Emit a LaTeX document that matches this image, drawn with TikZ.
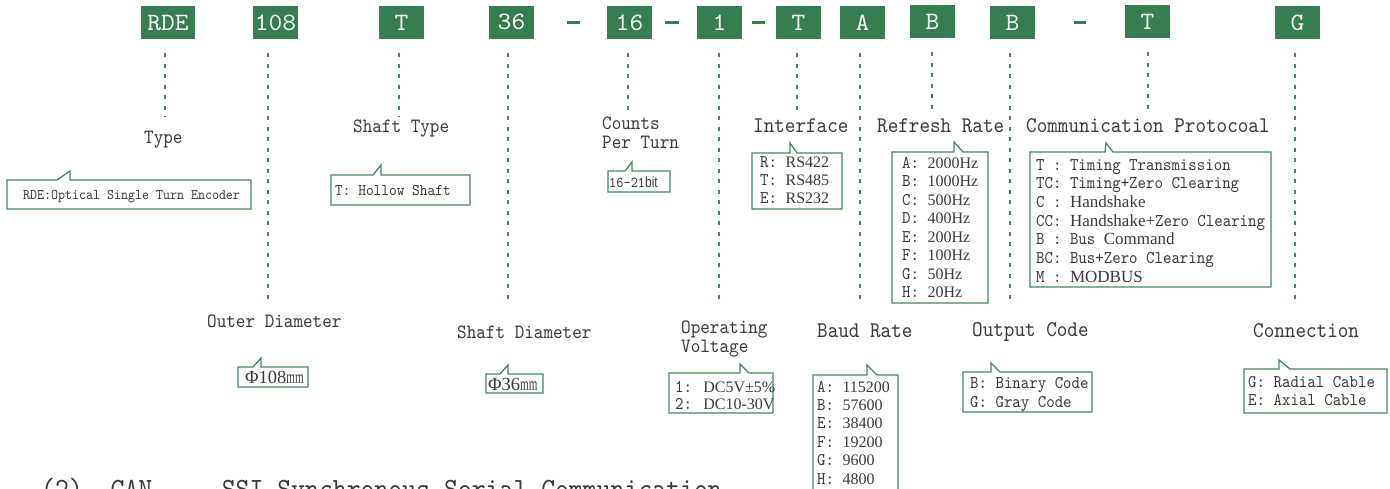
\documentclass[tikz,border=0pt]{standalone}
\usepackage{fontspec}
\newfontfamily\monof[FakeStretch=0.9]{lmmono10-regular.otf}
\newfontfamily\topf[FakeStretch=1.05]{lmmono10-regular.otf}
\newfontfamily\tmsf{Liberation Serif}
\newfontfamily\sansf[FakeStretch=0.8]{Liberation Sans}
\newcommand\tn[1]{{\tmsf\fontsize{16}{16}\selectfont #1}}
\newcommand\tnb[1]{{\tmsf\fontsize{18.5}{18.5}\selectfont #1}}
\definecolor{gfill}{HTML}{367E52}
\definecolor{gline}{HTML}{3D8B5B}
\definecolor{txt}{HTML}{3E3838}
\newcommand\gcall[8]{\draw[callout] (#1,#2) -- (#5,#2) -- (#6,#7) -- (#8,#2) -- (#3,#2) -- (#3,#4) -- (#1,#4) -- cycle;}
\tikzset{
 topbox/.style={fill=gfill, text=white!92!gray, minimum height=33pt, minimum width=45pt, inner sep=0pt, font=\topf\fontsize{25}{25}\selectfont},
 dline/.style={gline, line width=1.3pt, dash pattern=on 4pt off 6.5pt},
 lab/.style={anchor=base west, inner sep=0pt, text=txt, font=\monof\fontsize{20.3}{20.3}\selectfont},
 labL/.style={lab, font=\monof\fontsize{22.4}{22.4}\selectfont},
 boxtxt/.style={anchor=base west, inner sep=0pt, text=txt, font=\monof\fontsize{17.9}{17.9}\selectfont},
 callout/.style={draw=gline, line width=1.3pt, line join=miter},
 dashbar/.style={fill=gfill, draw=none}
}
\begin{document}
\begin{tikzpicture}[x=1pt,y=-1pt]
\useasboundingbox (0,0) rectangle (1390,488);
% top code boxes
\node[topbox, minimum width=54pt] (b1) at (168,22.5) {RDE};
\node[topbox] (b2) at (275.5,22.5) {108};
\node[topbox] (b3) at (401.5,22.5) {T};
\node[topbox] (b4) at (511.5,22.5) {\raisebox{2pt}{36}};
\node[topbox] (b5) at (629.5,22.5) {16};
\node[topbox] (b6) at (719.5,22.5) {1};
\node[topbox] (b7) at (798.5,22.5) {T};
\node[topbox] (b8) at (862.5,22.5) {A};
\node[topbox] (b9) at (932.5,21.5) {B};
\node[topbox] (b10) at (1012.5,22.5) {B};
\node[topbox] (b11) at (1147.5,21.5) {T};
\node[topbox] (b12) at (1297.5,22.5) {G};
% dashes between boxes
\fill[dashbar] (567,21) rectangle (580,24);
\fill[dashbar] (665,21) rectangle (679,24);
\fill[dashbar] (752,21) rectangle (765,24);
\fill[dashbar] (1074,21) rectangle (1086,24);
% dashed leader lines
\coordinate (e1) at (165,117);
\coordinate (e2) at (268,301);
\coordinate (e3) at (399,117);
\coordinate (e4) at (508,302);
\coordinate (e5) at (628,113);
\coordinate (e6) at (719,303);
\coordinate (e7) at (797,113);
\coordinate (e8) at (860,305);
\coordinate (e9) at (932,113);
\coordinate (e10) at (1010,305);
\coordinate (e11) at (1148,113);
\coordinate (e12) at (1295,305);
\foreach \i in {1,...,12}
  \draw[dline] ([yshift=-14pt]b\i.south -| e\i) -- (e\i);
% category labels
\node[lab] (lType) at (144,143) {Type};
\node[lab] (lShaftT) at (353,132) {Shaft Type};
\node[lab] (lCounts) at (602,129) {Counts};
\node[lab] (lPer) at (602,148) {Per Turn};
\node[labL] (lIface) at (753,132) {Interface};
\node[labL] (lRefr) at (877,132) {Refresh Rate};
\node[labL] (lComm) at (1026,132) {Communication Protocoal};
\node[lab] (lOuter) at (207,327) {Outer Diameter};
\node[lab] (lShaftD) at (457,338) {Shaft Diameter};
\node[lab] (lOper) at (681,333) {Operating};
\node[lab] (lVolt) at (681,352) {Voltage};
\node[labL] (lBaud) at (817,337) {Baud Rate};
\node[labL] (lOut) at (972,336) {Output Code};
\node[labL] (lConn) at (1253,337) {Connection};
% callouts
\gcall{7}{180}{251}{209}{57}{70}{171}{70}
\node[boxtxt, font=\monof\fontsize{14.8}{14.8}\selectfont] (tRDE) at (23,199) {RDE:Optical Single Turn Encoder};
\gcall{331}{175}{470}{205}{373}{381}{165}{381}
\node[boxtxt, font=\monof\fontsize{16.3}{16.3}\selectfont] (tHollow) at (335,195) {T: Hollow Shaft};
\gcall{608}{171}{670}{192}{625}{632}{162}{632}
\node[boxtxt, font=\monof\fontsize{15.2}{15.2}\selectfont] (tCnt) at (609,187) {16-21{\sansf\fontsize{15}{15}\selectfont bit}};
\gcall{752}{153}{842}{209}{790}{790}{143}{797}
\foreach \t [count=\i] in {R: \tn{RS422}, T: \tn{RS485}, E: \tn{RS232}}
  \node[boxtxt] (tIf\i) at (760,{167+18*(\i-1)}) {\t};
\gcall{892}{152}{988}{303}{954}{954}{142}{963}
\foreach \t [count=\i] in {A: \tn{2000Hz}, B: \tn{1000Hz}, C: \tn{500Hz}, D: \tn{400Hz}, E: \tn{200Hz}, F: \tn{100Hz}, G: \tn{50Hz}, H: \tn{20Hz}}
  \node[boxtxt] (tRf\i) at (902,{168+18.5*(\i-1)}) {\t};
\gcall{1030}{152}{1271}{287}{1105}{1106}{143}{1113}
\foreach \t [count=\i] in {T : Timing Transmission, TC: Timing+Zero Clearing, C : {\tmsf\fontsize{17}{17}\selectfont Handshake}, CC: {\tmsf\fontsize{17}{17}\selectfont Handshake+}Zero Clearing, B : Bus {\tmsf\fontsize{17}{17}\selectfont Command}, BC: Bus+Zero Clearing, M : {\tmsf\fontsize{17}{17}\selectfont MODBUS}}
  \node[boxtxt] (tPr\i) at (1036,{170+18.7*(\i-1)}) {\t};
\gcall{238}{367}{308}{387}{253}{261}{358}{261}
\node[boxtxt] (tOD) at (245,383) {\tnb{Φ108\scalebox{0.6}[1]{mm}}};
\gcall{486}{374}{543}{393}{500}{508}{365}{508}
\node[boxtxt] (tSD) at (488,390) {\tnb{Φ36\scalebox{0.6}[1]{mm}}};
\gcall{669}{373}{773}{413}{740}{740}{364}{749}
\node[boxtxt] (tV1) at (675,392) {1: \tn{DC5V±5\%}};
\node[boxtxt] (tV2) at (675,409) {2: \tn{DC10-30V}};
\gcall{813}{375}{898}{500}{867}{867}{365}{877}
\foreach \t [count=\i] in {A: \tn{115200}, B: \tn{57600}, E: \tn{38400}, F: \tn{19200}, G: \tn{9600}, H: \tn{4800}}
  \node[boxtxt] (tBd\i) at (817,{392+18.4*(\i-1)}) {\t};
\gcall{963}{372}{1092}{412}{991}{991}{363}{1000}
\node[boxtxt] (tOC1) at (970,388) {B: Binary Code};
\node[boxtxt] (tOC2) at (970,407) {G: Gray Code};
\gcall{1244}{369}{1387}{413}{1279}{1279}{360}{1290}
\node[boxtxt] (tCn1) at (1248,387) {G: Radial Cable};
\node[boxtxt] (tCn2) at (1248,405) {E: Axial Cable};
% cut-off bottom line
\node[lab, font=\monof\fontsize{29.4}{29.4}\selectfont] (bottom) at (41,498) {(2)~~CAN~~~~~SSI Synchronous Serial Communication};
\end{tikzpicture}
\end{document}
